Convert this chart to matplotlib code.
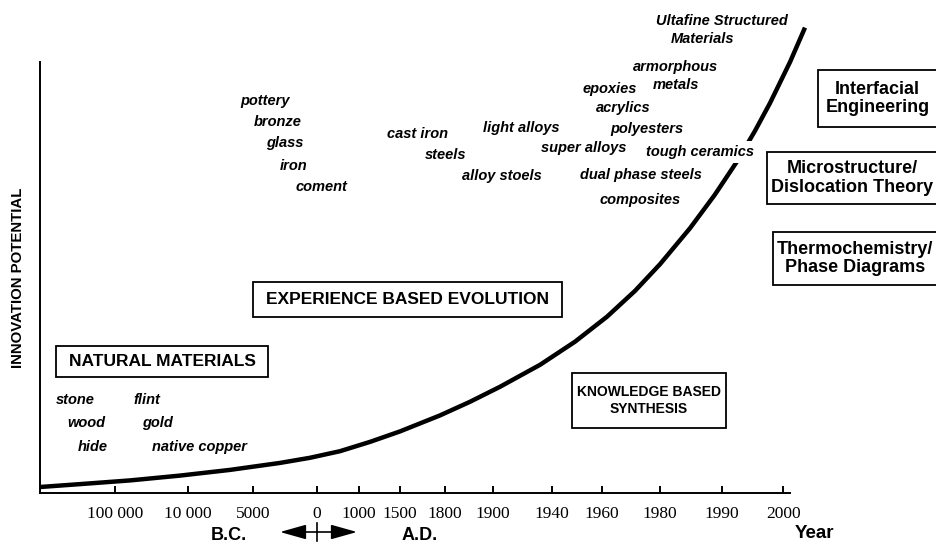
import matplotlib
matplotlib.use("Agg")
import matplotlib.pyplot as plt
from matplotlib.patches import Rectangle
from matplotlib.transforms import Affine2D

# ---------------- data ----------------
tick_labels = ["100 000", "10 000", "5000", "0", "1000", "1500", "1800",
               "1900", "1940", "1960", "1980", "1990", "2000"]
# position of each tick along the time axis (axis runs 0..100)
tick_pos = [10.0, 19.7, 28.4, 36.9, 42.5, 48.0, 54.0, 60.4, 68.3, 74.9, 82.7, 90.9, 99.1]

# innovation potential curve (axis units 0..100)
curve_x = [0, 5.33, 12.0, 18.67, 25.33, 32.0, 36.0, 40.0, 44.0, 48.0, 53.33, 57.33,
           61.33, 66.67, 71.33, 75.6, 79.33, 82.67, 86.67, 90.0, 92.93, 95.33,
           97.33, 100.0, 102.0]
curve_y = [1.39, 2.06, 2.92, 4.04, 5.36, 6.98, 8.17, 9.70, 11.86, 14.29, 18.0, 21.16,
           24.64, 29.74, 35.10, 40.90, 46.89, 53.09, 61.44, 69.26, 76.91, 84.01,
           90.46, 99.98, 107.98]

materials = ["stone", "wood", "hide", "flint", "gold", "native copper",
             "pottery", "bronze", "glass", "iron", "coment",
             "cast iron", "steels", "light alloys", "alloy stoels", "super alloys",
             "epoxies", "acrylics", "polyesters", "dual phase steels", "composites",
             "armorphous", "metals", "tough ceramics",
             "Ultafine Structured", "Materials"]
# pixel centres of the labels (layout)
mat_xy = [(75, 400), (86, 423), (93, 447), (147, 400), (157, 423), (200, 447),
          (265, 101), (278, 122), (285, 143), (294, 166), (321, 187),
          (418, 134), (446, 155), (521, 128), (502, 176), (584, 148),
          (610, 89), (623, 108), (647, 129), (641, 175), (640, 200),
          (675, 67), (676, 85), (700, 152),
          (722, 21), (702, 39)]

eras = ["NATURAL MATERIALS", "EXPERIENCE BASED EVOLUTION", "KNOWLEDGE BASED\nSYNTHESIS"]
era_box = [(56, 346, 268, 377), (253, 282, 562, 317), (572, 373, 726, 428)]
era_size = [12.5, 12.5, 10]

sciences = ["Interfacial\nEngineering", "Microstructure/\nDislocation Theory",
            "Thermochemistry/\nPhase Diagrams"]
sci_box = [(818, 70, 937, 127), (767, 152, 937, 204), (773, 232, 937, 285)]

W, H = 937, 543
fig = plt.figure(figsize=(W / 100, H / 100), dpi=100)
fig.patch.set_facecolor("white")
px = Affine2D().scale(1 / W, -1 / H).translate(0, 1) + fig.transFigure

ax = fig.add_axes([40 / W, (H - 493) / H, 750 / W, (493 - 62) / H])
ax.set_xlim(0, 100)
ax.set_ylim(0, 100)
for s in ["top", "right"]:
    ax.spines[s].set_visible(False)
for s in ["left", "bottom"]:
    ax.spines[s].set_linewidth(1.4)
ax.set_yticks([])
ax.set_xticks(tick_pos)
ax.set_xticklabels(tick_labels, fontfamily="Liberation Serif", fontsize=12.5)
ax.tick_params(axis="x", direction="in", length=5, width=1.4, pad=9)

ax.plot(curve_x, curve_y, color="black", lw=3.2, clip_on=False,
        solid_capstyle="butt", solid_joinstyle="round", zorder=2)

sans = "Liberation Sans"
for name, (x, y) in zip(materials, mat_xy):
    kw = {}
    if name == "tough ceramics":
        kw["bbox"] = dict(facecolor="white", edgecolor="none", pad=3)
    fig.text(x, y, name, transform=px, ha="center", va="center",
             fontfamily=sans, fontstyle="italic", fontweight="bold",
             fontsize=10.5, zorder=5, **kw)

for name, (x0, y0, x1, y1), fs in zip(eras, era_box, era_size):
    fig.patches.append(Rectangle((x0, y0), x1 - x0, y1 - y0, transform=px,
                                 fill=False, edgecolor="black", lw=1.3))
    fig.text((x0 + x1) / 2, (y0 + y1) / 2, name, transform=px, ha="center",
             va="center", fontfamily=sans, fontweight="bold", fontsize=fs,
             linespacing=1.35)

for name, (x0, y0, x1, y1) in zip(sciences, sci_box):
    fig.patches.append(Rectangle((x0, y0), x1 - x0, y1 - y0, transform=px,
                                 fill=False, edgecolor="black", lw=1.3))
    fig.text((x0 + x1) / 2, (y0 + y1) / 2, name, transform=px, ha="center",
             va="center", fontfamily=sans, fontweight="bold", fontsize=13,
             linespacing=1.15)

fig.text(18, 278, "INNOVATION POTENTIAL", transform=px, rotation=90,
         ha="center", va="center", fontfamily=sans, fontweight="bold", fontsize=10.8)

fig.text(229, 536, "B.C.", transform=px, ha="center", va="center",
         fontfamily=sans, fontweight="bold", fontsize=13)
fig.text(420, 536, "A.D.", transform=px, ha="center", va="center",
         fontfamily=sans, fontweight="bold", fontsize=13)
fig.text(814, 533, "Year", transform=px, ha="center", va="center",
         fontfamily=sans, fontweight="bold", fontsize=13.5)

# B.C. / A.D. double arrow
for (tip, base) in [(280, 317), (357, 317)]:
    ax.annotate("", xy=(tip / W, 1 - 532 / H), xycoords="figure fraction",
                xytext=(base / W, 1 - 532 / H), textcoords="figure fraction",
                arrowprops=dict(arrowstyle="-|>,head_length=1.6,head_width=0.45",
                                color="black", lw=1.2, shrinkA=0, shrinkB=0),
                annotation_clip=False)
fig.lines.append(plt.Line2D([317, 317], [523, 541], transform=px, color="black", lw=1.2))

fig.savefig("out.png", dpi=100, facecolor="white")
